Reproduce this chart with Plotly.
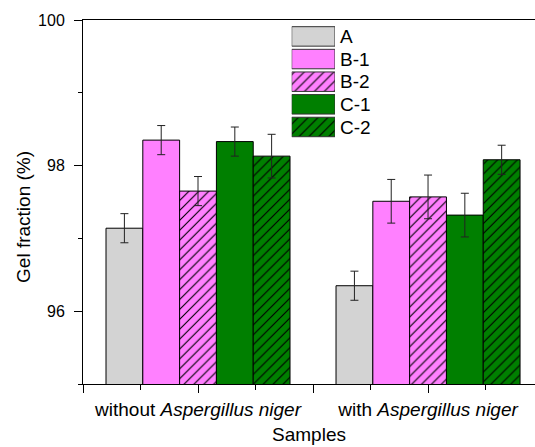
import plotly.graph_objects as go

# Gel fraction data (mean and standard deviation) for each sample series
groups = ["without <i>Aspergillus niger</i>", "with <i>Aspergillus niger</i>"]
group_pos = [1, 2]

series_names = ["A", "B-1", "B-2", "C-1", "C-2"]
series_colors = ["#d3d3d3", "#ff80ff", "#ff80ff", "#007f00", "#007f00"]
series_hatch = ["", "", "/", "", "/"]

vals_A = [97.14, 96.35]
vals_B1 = [98.35, 97.51]
vals_B2 = [97.65, 97.57]
vals_C1 = [98.33, 97.32]
vals_C2 = [98.13, 98.08]

err_A = [0.20, 0.20]
err_B1 = [0.20, 0.30]
err_B2 = [0.20, 0.30]
err_C1 = [0.20, 0.30]
err_C2 = [0.30, 0.20]

series_vals = [vals_A, vals_B1, vals_B2, vals_C1, vals_C2]
series_errs = [err_A, err_B1, err_B2, err_C1, err_C2]

FONT = "Arial, Liberation Sans, sans-serif"


def hatch_marker(color, hatch, edge):
    return dict(color=color, line=dict(color=edge, width=1),
                pattern=dict(shape=hatch, fillmode="replace",
                             bgcolor=color, fgcolor="#000000",
                             fgopacity=1, size=7, solidity=0.16))


fig = go.Figure()

for name, color, hatch, v, e in zip(series_names, series_colors, series_hatch,
                                    series_vals, series_errs):
    fig.add_trace(go.Bar(
        x=group_pos, y=v, name=name, showlegend=False,
        marker=hatch_marker(color, hatch, "#000000"),
        error_y=dict(type="data", array=e, visible=True, color="#222222",
                     thickness=1, width=4),
    ))

# Legend drawn as a small horizontal bar chart on its own axes
for name, color, hatch in zip(series_names, series_colors, series_hatch):
    fig.add_trace(go.Bar(
        x=[1], y=[name], orientation="h", offsetgroup="key",
        xaxis="x2", yaxis="y2", showlegend=False, width=0.86,
        marker=hatch_marker(color, hatch, "#333333"),
        hoverinfo="skip",
    ))

fig.update_layout(
    width=535, height=447,
    margin=dict(l=83, r=0, t=20, b=63),
    paper_bgcolor="white", plot_bgcolor="white",
    barmode="group", bargap=0.2, bargroupgap=0,
    font=dict(family=FONT, size=16, color="#000000"),
    xaxis=dict(
        range=[0.5, 2.465], showgrid=False, zeroline=False,
        showline=True, linecolor="#000000", linewidth=1, mirror=True,
        tickmode="array", tickvals=[0.5, 1, 1.5, 2, 2.5],
        ticktext=["", groups[0], "", groups[1], ""],
        ticks="outside", ticklen=8, tickcolor="#000000", tickwidth=1,
        tickfont=dict(size=19),
        minor=dict(ticks="outside", ticklen=5, tick0=0.5, dtick=0.25,
                   tickcolor="#000000"),
        title=dict(text="Samples", font=dict(size=19), standoff=8),
    ),
    yaxis=dict(
        range=[95, 100], showgrid=False, zeroline=False,
        showline=True, linecolor="#000000", linewidth=1,
        tickmode="linear", tick0=96, dtick=2,
        ticks="outside", ticklen=8, tickcolor="#000000", tickwidth=1,
        tickfont=dict(size=16), ticklabelstandoff=6,
        minor=dict(ticks="outside", ticklen=4, tick0=95, dtick=1,
                   tickcolor="#000000"),
    ),
    xaxis2=dict(domain=[0.4617, 0.5575], anchor="y2", range=[0, 1],
                visible=False, fixedrange=True),
    yaxis2=dict(domain=[0.675, 0.986], anchor="x2", side="right",
                autorange="reversed", showgrid=False, zeroline=False,
                showline=False, ticks="", ticklabelstandoff=4,
                tickmode="array", tickvals=series_names,
                ticktext=series_names, categoryorder="array",
                categoryarray=series_names,
                tickfont=dict(size=19), fixedrange=True),
    annotations=[dict(
        text="Gel fraction (%)", textangle=-90, font=dict(size=19),
        xref="paper", yref="paper", x=0, y=0.459,
        xanchor="center", yanchor="middle", xshift=-59, showarrow=False,
    )],
)

fig.write_html("out.html")
